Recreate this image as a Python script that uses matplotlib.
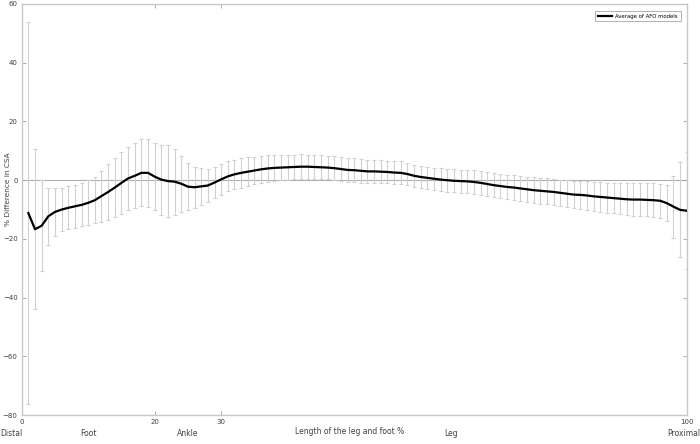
import numpy as np
import matplotlib
matplotlib.use("Agg")
import matplotlib.pyplot as plt

# position along the leg/foot (%)
pos = np.arange(1, 101)

avg_diff = [
    -11.2, -16.7, -15.5, -12.3, -10.8, -10.0, -9.4, -8.9, -8.4, -7.7,
    -6.8, -5.4, -4.0, -2.5, -0.9, 0.6, 1.5, 2.5, 2.5, 1.2,
    0.2, -0.3, -0.5, -1.2, -2.2, -2.4, -2.1, -1.8, -0.8, 0.3,
    1.3, 2.0, 2.5, 2.9, 3.3, 3.7, 4.0, 4.2, 4.3, 4.4,
    4.5, 4.6, 4.6, 4.5, 4.4, 4.3, 4.1, 3.8, 3.5, 3.4,
    3.2, 3.0, 3.0, 2.9, 2.8, 2.6, 2.5, 2.1, 1.5, 1.1,
    0.8, 0.5, 0.2, 0.0, -0.2, -0.3, -0.4, -0.6, -0.9, -1.3,
    -1.7, -2.0, -2.3, -2.5, -2.8, -3.1, -3.4, -3.6, -3.8, -4.0,
    -4.3, -4.6, -4.9, -5.0, -5.2, -5.5, -5.7, -5.9, -6.1, -6.3,
    -6.5, -6.6, -6.6, -6.7, -6.8, -7.0, -7.8, -9.0, -10.1, -10.4,
]

sd_diff = [
    65.1, 27.2, 15.5, 9.6, 8.3, 7.3, 7.3, 7.4, 7.3, 7.6,
    7.8, 8.7, 9.5, 10.2, 10.5, 10.8, 11.1, 11.4, 11.5, 11.5,
    11.9, 12.3, 11.2, 9.6, 7.9, 7.0, 6.3, 5.5, 5.4, 5.3,
    5.1, 5.0, 5.0, 4.9, 4.7, 4.6, 4.5, 4.4, 4.2, 4.2,
    4.2, 4.2, 4.1, 4.1, 4.1, 4.0, 4.0, 4.0, 4.0, 4.0,
    4.0, 3.9, 3.9, 3.9, 3.9, 3.9, 3.9, 3.9, 3.8, 3.8,
    3.8, 3.8, 3.8, 3.9, 3.9, 3.9, 3.9, 4.0, 4.0, 4.0,
    4.1, 4.1, 4.2, 4.2, 4.3, 4.3, 4.4, 4.4, 4.4, 4.3,
    4.4, 4.5, 4.6, 4.7, 4.8, 4.9, 5.0, 5.1, 5.2, 5.3,
    5.4, 5.5, 5.5, 5.6, 5.7, 5.8, 6.0, 10.6, 16.2, 20.0,
]

region_pos = [-1.6, 10, 25, 64.5, 99.5]
region_names = ["Distal", "Foot", "Ankle", "Leg", "Proximal"]

x_ticks = [0, 20, 30, 100]
y_ticks = [-80, -60, -40, -20, 0, 20, 40, 60]

grey = "#d0d0d0"
txt = "#404040"

fig = plt.figure(figsize=(7, 4.44), dpi=100)
ax = fig.add_axes([0.031, 0.065, 0.950, 0.926])

ax.axhline(0, color="#b0b0b0", lw=0.8, zorder=1)
ax.errorbar(pos, avg_diff, yerr=sd_diff, fmt="none", ecolor=grey,
            elinewidth=0.8, capsize=1.5, capthick=0.8, zorder=2)
ax.plot(pos, avg_diff, color="black", lw=1.6, zorder=3,
        label="Average of AFO models")

ax.set_xlim(0, 100)
ax.set_ylim(-80, 60)
ax.set_xticks(x_ticks)
ax.set_yticks(y_ticks)
ax.tick_params(direction="in", length=3, width=0.6, color="#a0a0a0",
               labelsize=5, labelcolor=txt, top=True, right=True, pad=3)
for s in ax.spines.values():
    s.set_color("#c8c8c8")
    s.set_linewidth(1.0)

ax.set_ylabel("% Difference in CSA", fontsize=5.3, color=txt)
ax.yaxis.set_label_coords(-0.0155, 0.55)

# x axis label and region names under the axis
fig.text(0.5, 1 - 431 / 444, "Length of the leg and foot %", fontsize=5.5,
         color=txt, ha="center", va="center")
for p, name in zip(region_pos, region_names):
    ax.text(p, -0.045, name, transform=ax.get_xaxis_transform(),
            fontsize=5.5, color=txt, ha="center", va="center")

leg = ax.legend(loc="upper right", fontsize=3.9, frameon=True, fancybox=False,
                handlelength=2.6, handletextpad=0.6, borderpad=0.5,
                bbox_to_anchor=(0.995, 0.99))
leg.get_frame().set_edgecolor("#909090")
leg.get_frame().set_linewidth(0.6)

fig.savefig("out.png", dpi=100)
